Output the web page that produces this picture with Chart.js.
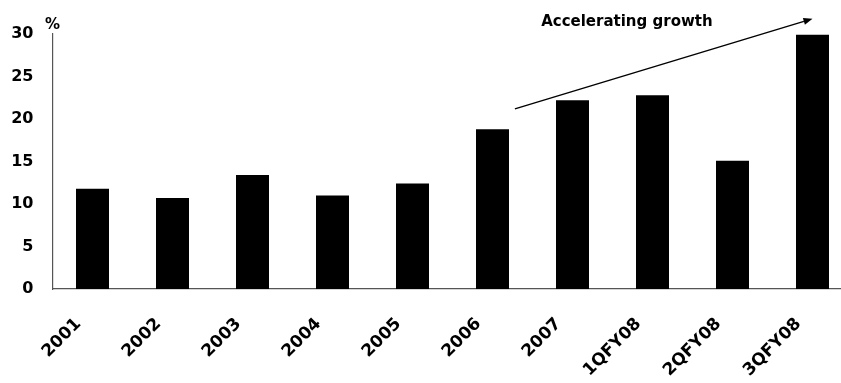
<!DOCTYPE html>
<html>
<head>
<meta charset="utf-8">
<script src="https://cdn.jsdelivr.net/npm/chart.js@4/dist/chart.umd.min.js"></script>
<style>
  html, body { margin: 0; padding: 0; background: #fff; overflow: hidden; }
  #wrap { width: 841px; height: 383px; overflow: hidden; position: relative; }
  canvas { display: block; }
</style>
</head>
<body>
<div id="wrap"><canvas id="c" width="860" height="383"></canvas></div>
<script>
const categories = ['2001', '2002', '2003', '2004', '2005', '2006', '2007', '1QFY08', '2QFY08', '3QFY08'];
const growthValues = [11.8, 10.7, 13.4, 11.0, 12.4, 18.8, 22.2, 22.8, 15.1, 29.9];
const yTicks = [0, 5, 10, 15, 20, 25, 30];
const unitLabel = '%';
const annotationText = 'Accelerating growth';

const FONT = '"DejaVu Sans", "Liberation Sans", Arial, sans-serif';

// annotation anchors in data space (category index, value)
const arrowFrom = { x: 5.28, y: 21.2 };
const arrowTo = { x: 9.0, y: 31.8 };
const textAt = { x: 6.68, y: 31.0 };

const annotationPlugin = {
  id: 'annot',
  afterDraw(chart) {
    const ctx = chart.ctx;
    const xs = chart.scales.x, ys = chart.scales.y;
    ctx.save();
    ctx.fillStyle = '#000';
    ctx.font = 'bold 15px ' + FONT;
    ctx.textAlign = 'center';
    ctx.textBaseline = 'alphabetic';
    ctx.fillText(unitLabel, ys.right, ys.getPixelForValue(30.6));
    ctx.fillText(annotationText, xs.getPixelForValue(textAt.x), ys.getPixelForValue(textAt.y));
    const x1 = xs.getPixelForValue(arrowFrom.x), y1 = ys.getPixelForValue(arrowFrom.y);
    const x2 = xs.getPixelForValue(arrowTo.x), y2 = ys.getPixelForValue(arrowTo.y);
    const ang = Math.atan2(y2 - y1, x2 - x1);
    const hl = 9, hw = 3.5;
    const bx = x2 - hl * Math.cos(ang), by = y2 - hl * Math.sin(ang);
    ctx.strokeStyle = '#000';
    ctx.lineWidth = 1.4;
    ctx.beginPath();
    ctx.moveTo(x1, y1);
    ctx.lineTo(bx, by);
    ctx.stroke();
    ctx.beginPath();
    ctx.moveTo(x2, y2);
    ctx.lineTo(bx + hw * Math.sin(ang), by - hw * Math.cos(ang));
    ctx.lineTo(bx - hw * Math.sin(ang), by + hw * Math.cos(ang));
    ctx.closePath();
    ctx.fill();
    ctx.restore();
  }
};

new Chart(document.getElementById('c'), {
  type: 'bar',
  data: {
    labels: categories,
    datasets: [{
      data: growthValues,
      backgroundColor: '#000',
      borderWidth: 0,
      barPercentage: 0.4125,
      categoryPercentage: 1.0
    }]
  },
  options: {
    responsive: false,
    animation: false,
    devicePixelRatio: 1,
    layout: { padding: { top: 34, right: 7.5, left: 0, bottom: 0 } },
    plugins: { legend: { display: false }, tooltip: { enabled: false } },
    scales: {
      x: {
        grid: { display: false, drawTicks: false },
        border: { display: true, color: '#555', width: 1.2 },
        ticks: {
          color: '#000',
          font: { family: FONT, size: 17, weight: 'bold' },
          minRotation: 45,
          maxRotation: 45,
          padding: 25,
          labelOffset: -14,
          autoSkip: false
        },
        afterFit(s) { s.height = 94; }
      },
      y: {
        min: 0,
        max: 30,
        afterBuildTicks(s) { s.ticks = yTicks.map(v => ({ value: v })); },
        grid: { display: false, drawTicks: false },
        border: { display: true, color: '#555', width: 1.2 },
        ticks: {
          color: '#000',
          font: { family: FONT, size: 16, weight: 'bold' },
          padding: 19
        },
        afterFit(s) { s.width = 52.5; }
      }
    }
  },
  plugins: [annotationPlugin]
});
</script>
</body>
</html>
